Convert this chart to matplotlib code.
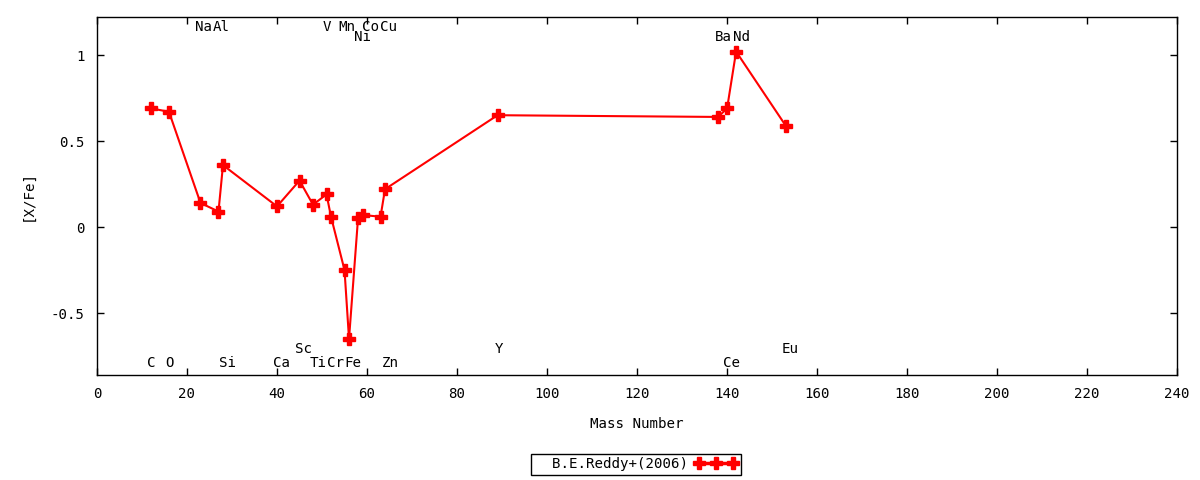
import matplotlib
matplotlib.use("Agg")
import matplotlib.pyplot as plt

elements = ["C", "O", "Na", "Al", "Si", "Ca", "Sc", "Ti", "V", "Cr", "Mn", "Fe",
            "Ni", "Co", "Cu", "Zn", "Y", "Ba", "Ce", "Nd", "Eu"]
mass = [12, 16, 23, 27, 28, 40, 45, 48, 51, 52, 55, 56, 58, 59, 63, 64, 89, 138, 140, 142, 153]
xfe = [0.69, 0.67, 0.14, 0.09, 0.36, 0.12, 0.27, 0.13, 0.19, 0.06, -0.25, -0.65,
       0.05, 0.07, 0.06, 0.22, 0.65, 0.64, 0.69, 1.02, 0.59]
series_name = "B.E.Reddy+(2006)"

# label placement (layout only)
label_x = [12.15, 16.2, 23.6, 27.7, 29.0, 41.0, 45.8, 49.1, 51.0, 52.9, 55.5, 56.9,
           59.0, 60.7, 64.7, 65.1, 89.3, 139.1, 140.9, 143.1, 154.0]
label_y = [-0.79, -0.79, 1.163, 1.163, -0.79, -0.79, -0.709, -0.79, 1.163, -0.79, 1.163, -0.79,
           1.105, 1.163, 1.163, -0.79, -0.709, 1.105, -0.79, 1.105, -0.709]

plt.rcParams['font.family'] = ['DejaVu Sans Mono', 'DejaVu Sans']
plt.rcParams['font.size'] = 10.2

fig = plt.figure(figsize=(12, 4.8), dpi=100)
ax = fig.add_axes([0.0808, 0.2188, 0.9002, 0.7458])

ax.plot(mass, xfe, color='red', lw=1.5, marker='P', ms=8, mec='red', mfc='red',
        label="  " + series_name)

for el, lx, ly in zip(elements, label_x, label_y):
    ax.text(lx, ly, el, ha='center', va='center')

ax.set_xlim(0, 240)
ax.set_ylim(-0.86, 1.221)
ax.set_xticks(range(0, 241, 20))
ax.set_yticks([-0.5, 0, 0.5, 1])
ax.set_yticklabels(["-0.5", "0", "0.5", "1"])
ax.tick_params(direction='in', top=True, right=True, length=5, width=1, pad=9)
for s in ax.spines.values():
    s.set_linewidth(1)
ax.set_xlabel("Mass Number")
ax.set_ylabel("[X/Fe]")
ax.xaxis.set_label_coords(0.4995, -0.117)
ax.yaxis.set_label_coords(-0.058, 0.5)

leg = fig.legend(loc='center', bbox_to_anchor=(0.530, 0.033), markerfirst=False,
                 handlelength=3.0, numpoints=3, fancybox=False, edgecolor='black',
                 framealpha=1, borderpad=0.25, handletextpad=0.5, borderaxespad=0)
leg.get_frame().set_linewidth(1)
for h in leg.legend_handles:
    h.set_linewidth(2.5)

fig.savefig("out.png", dpi=100)
